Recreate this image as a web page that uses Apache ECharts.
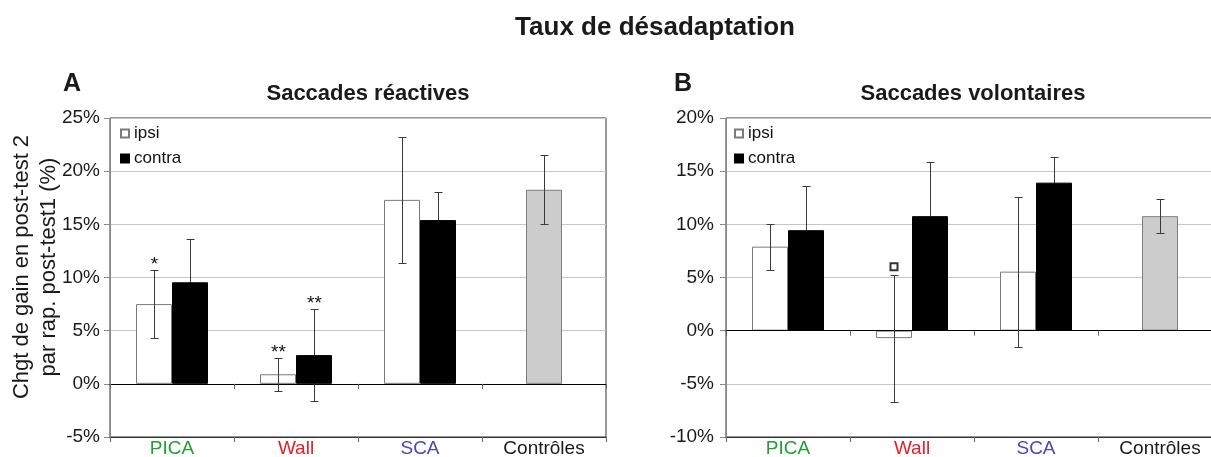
<!DOCTYPE html>
<html>
<head>
<meta charset="utf-8">
<title>Taux de désadaptation</title>
<script src="https://cdn.jsdelivr.net/npm/echarts@6/dist/echarts.min.js"></script>
<style>
  html, body { margin: 0; padding: 0; background: #ffffff; }
  #chart { width: 1211px; height: 457px; }
</style>
</head>
<body>
<div id="chart"></div>
<script>
// ---- Data -------------------------------------------------------------
const categories = ['PICA', 'Wall', 'SCA', 'Contrôles'];
const categoryColors = ['#22a033', '#e3202a', '#4848b8', '#1a1a1a'];

// A — Saccades réactives (mean change in %, with error half-widths)
const reactiveTicks = [-5, 0, 5, 10, 15, 20, 25];
const reactiveIpsi = [7.5, 0.9, 17.3, null];
const reactiveIpsiErr = [3.2, 1.55, 5.95, null];
const reactiveContra = [9.55, 2.7, 15.4, null];
const reactiveContraErr = [4.1, 4.35, 2.6, null];
const reactiveControls = [null, null, null, 18.25];
const reactiveControlsErr = [null, null, null, 3.25];
const reactiveIpsiStars = ['*', '**', '', ''];
const reactiveContraStars = ['', '**', '', ''];

// B — Saccades volontaires
const voluntaryTicks = [-10, -5, 0, 5, 10, 15, 20];
const voluntaryIpsi = [7.9, -0.7, 5.55, null];
const voluntaryIpsiErr = [2.17, 5.97, 7.04, null];
const voluntaryContra = [9.45, 10.77, 13.92, null];
const voluntaryContraErr = [4.19, 5.07, 2.39, null];
const voluntaryControls = [null, null, null, 10.77];
const voluntaryControlsErr = [null, null, null, 1.6];
const voluntaryIpsiOutlier = [null, 6.0, null, null];

// ---- Drawing ----------------------------------------------------------
const FONT = '"Liberation Sans", Arial, Helvetica, sans-serif';
const BAR_W = 36;
const HALF = BAR_W / 2;

function errorBarRenderer(offset, stars) {
  return function (params, api) {
    const idx = api.value(0);
    const mean = api.value(1);
    const err = api.value(2);
    if (isNaN(mean) || isNaN(err)) return null;
    const hi = api.coord([idx, mean + err]);
    const lo = api.coord([idx, mean - err]);
    const x = Math.round(hi[0] + offset) + 0.5;
    const y1 = Math.round(hi[1]) + 0.5;
    const y2 = Math.round(lo[1]) + 0.5;
    const cap = 4;
    const st = { stroke: '#3a3a3a', lineWidth: 1 };
    const children = [
      { type: 'line', shape: { x1: x, y1: y1, x2: x, y2: y2 }, style: st },
      { type: 'line', shape: { x1: x - cap, y1: y1, x2: x + cap, y2: y1 }, style: st },
      { type: 'line', shape: { x1: x - cap, y1: y2, x2: x + cap, y2: y2 }, style: st }
    ];
    const star = stars && stars[params.dataIndex];
    if (star) {
      children.push({
        type: 'text', x: x, y: y1 - 6,
        style: { text: star, font: '19px ' + FONT, fill: '#111', align: 'center', verticalAlign: 'middle' }
      });
    }
    return { type: 'group', children: children };
  };
}

function triples(means, errs) {
  return categories.map((_, i) => [i, means[i], errs[i]]);
}

function xAxesFor(gridIndex) {
  return [
    { // category axis crossing at 0
      gridIndex: gridIndex, type: 'category', data: categories, position: 'bottom', z: 3,
      axisLine: { onZero: true, lineStyle: { color: '#000', width: 1 } },
      axisTick: { show: true, length: 5, lineStyle: { color: '#666' } },
      axisLabel: { show: false }, splitLine: { show: false }
    },
    { // labelled axis along the bottom edge
      gridIndex: gridIndex, type: 'category', data: categories, position: 'bottom', z: 3,
      axisLine: { onZero: false, lineStyle: { color: '#333', width: 1 } },
      axisTick: { show: true, length: 5, lineStyle: { color: '#666' } },
      axisLabel: {
        fontSize: 19, fontFamily: FONT, margin: 2,
        color: function (v, i) { return categoryColors[i]; }
      },
      splitLine: { show: false }
    }
  ];
}

function yAxisFor(gridIndex, ticks, margin) {
  return {
    gridIndex: gridIndex, type: 'value',
    min: ticks[0], max: ticks[ticks.length - 1], interval: ticks[1] - ticks[0],
    axisLine: { show: true, lineStyle: { color: '#8a8a8a' } },
    axisTick: { show: true, length: 6, lineStyle: { color: '#8a8a8a' } },
    axisLabel: { formatter: '{value}%', fontSize: 19, fontFamily: FONT, color: '#1a1a1a', margin: margin },
    splitLine: { show: true, lineStyle: { color: '#c6c6c6', width: 1 } }
  };
}

function panelSeries(xBase, yIndex, d) {
  const list = [
    {
      name: 'ipsi', type: 'bar', xAxisIndex: xBase, yAxisIndex: yIndex, z: 2,
      data: d.ipsi, barWidth: BAR_W, barGap: '0%',
      itemStyle: { color: '#ffffff', borderColor: '#7a7a7a', borderWidth: 1 }
    },
    {
      // drawn above the error bars so the lower whisker hides inside the black bar
      name: 'contra', type: 'bar', xAxisIndex: xBase, yAxisIndex: yIndex, z: 5,
      data: d.contra, barWidth: BAR_W, barGap: '0%',
      itemStyle: { color: '#000000', borderColor: '#000000', borderWidth: 1 }
    },
    {
      name: 'Contrôles', type: 'bar', xAxisIndex: xBase + 1, yAxisIndex: yIndex, z: 2,
      data: d.controls, barWidth: BAR_W,
      itemStyle: { color: '#cccccc', borderColor: '#7f7f7f', borderWidth: 1 }
    },
    {
      name: 'ipsi err', type: 'custom', xAxisIndex: xBase, yAxisIndex: yIndex, z: 4,
      renderItem: errorBarRenderer(-HALF, d.ipsiStars), data: triples(d.ipsi, d.ipsiErr)
    },
    {
      name: 'contra err', type: 'custom', xAxisIndex: xBase, yAxisIndex: yIndex, z: 4,
      renderItem: errorBarRenderer(HALF, d.contraStars), data: triples(d.contra, d.contraErr)
    },
    {
      name: 'controls err', type: 'custom', xAxisIndex: xBase + 1, yAxisIndex: yIndex, z: 4,
      renderItem: errorBarRenderer(0, null), data: triples(d.controls, d.controlsErr)
    }
  ];
  if (d.outlier) {
    list.push({
      name: 'ipsi outlier', type: 'scatter', xAxisIndex: xBase, yAxisIndex: yIndex, z: 6,
      symbol: 'rect', symbolSize: [7, 7], symbolOffset: [-HALF, 0],
      itemStyle: { color: '#ffffff', borderColor: '#000000', borderWidth: 2 },
      data: d.outlier.map((v, i) => [i, v]).filter(p => p[1] !== null)
    });
  }
  return list;
}

function legendAt(left) {
  return {
    data: ['ipsi', 'contra'], orient: 'vertical', left: left, top: 120,
    icon: 'rect', itemWidth: 8, itemHeight: 8, itemGap: 8,
    selectedMode: false,
    textStyle: { fontSize: 17, fontFamily: FONT, color: '#111' }
  };
}

function label(text, x, y, size, bold, extra) {
  return Object.assign({
    type: 'text', x: x, y: y, silent: true,
    style: {
      text: text, fill: '#1a1a1a', align: 'center', verticalAlign: 'middle',
      font: (bold ? 'bold ' : '') + size + 'px ' + FONT
    }
  }, extra || {});
}

const chart = echarts.init(document.getElementById('chart'), null, { renderer: 'canvas' });

chart.setOption({
  animation: false,
  backgroundColor: '#ffffff',
  grid: [
    { left: 110, top: 118, width: 496, height: 319, outerBoundsMode: 'none',
      show: true, borderColor: '#333', borderWidth: 1 },
    { left: 726, top: 118, width: 496, height: 319, outerBoundsMode: 'none',
      show: true, borderColor: '#333', borderWidth: 1 }
  ],
  xAxis: xAxesFor(0).concat(xAxesFor(1)),
  yAxis: [yAxisFor(0, reactiveTicks, 10), yAxisFor(1, voluntaryTicks, 12)],
  legend: [legendAt(115), legendAt(729)],
  graphic: [
    label('Taux de désadaptation', 655, 28, 26, true),
    label('A', 72, 84, 25, true),
    label('Saccades réactives', 368, 94, 22, true),
    label('B', 683, 84, 25, true),
    label('Saccades volontaires', 973, 94, 22, true),
    label('Chgt de gain en post-test 2\npar rap. post-test1 (%)', 35, 267, 22, false,
      { rotation: Math.PI / 2, style: {
          text: 'Chgt de gain en post-test 2\npar rap. post-test1 (%)',
          fill: '#1a1a1a', align: 'center', verticalAlign: 'middle',
          font: '22px ' + FONT, lineHeight: 27 } })
  ],
  series: panelSeries(0, 0, {
    ipsi: reactiveIpsi, ipsiErr: reactiveIpsiErr,
    contra: reactiveContra, contraErr: reactiveContraErr,
    controls: reactiveControls, controlsErr: reactiveControlsErr,
    ipsiStars: reactiveIpsiStars, contraStars: reactiveContraStars
  }).concat(panelSeries(2, 1, {
    ipsi: voluntaryIpsi, ipsiErr: voluntaryIpsiErr,
    contra: voluntaryContra, contraErr: voluntaryContraErr,
    controls: voluntaryControls, controlsErr: voluntaryControlsErr,
    outlier: voluntaryIpsiOutlier
  }))
});
</script>
</body>
</html>
